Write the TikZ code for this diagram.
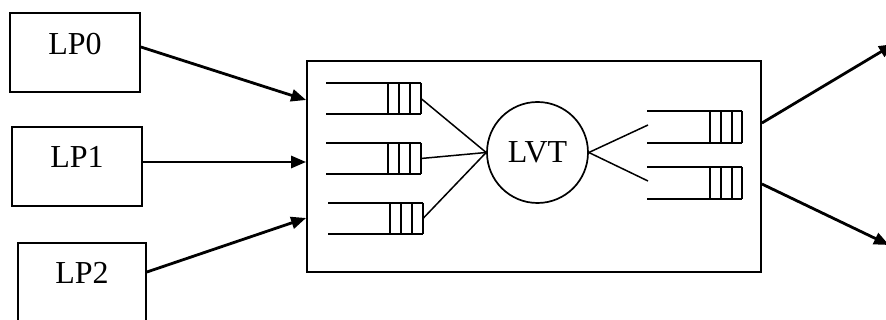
\documentclass[tikz,border=0pt]{standalone}
\usepackage{fontspec}
\setmainfont{Liberation Serif}
\usetikzlibrary{arrows.meta}

\tikzset{
  lpbox/.style={draw, line width=1.8pt, minimum width=130pt, minimum height=79pt, inner sep=0pt},
  queue/.style={line width=1.7pt},
  link/.style={line width=1.5pt},
  flow/.style={->, line width=2.8pt},
}

\begin{document}
\begin{tikzpicture}[x=1pt, y=-1pt, >={Triangle[length=15pt, width=12pt]},
  font=\fontsize{32}{38}\selectfont]
  \useasboundingbox (0,0) rectangle (886,320);

  % Logical processes
  \node[lpbox] (lp0) at (75,52.5) {};
  \node[lpbox] (lp1) at (77,166.5) {};
  \node[lpbox, minimum width=128pt] (lp2) at (82,282.5) {};
  \node[anchor=base] (lp0txt) at ([yshift=-42pt]lp0.north) {LP0};
  \node[anchor=base] (lp1txt) at ([yshift=-41pt]lp1.north) {LP1};
  \node[anchor=base] (lp2txt) at ([yshift=-41pt]lp2.north) {LP2};

  % Main box and LVT
  \node[draw, line width=1.8pt, minimum width=454pt, minimum height=211pt] (proc) at (534,166.5) {};
  \node[circle, draw, line width=1.7pt, minimum size=101pt, inner sep=0pt] (lvt) at (537.5,152.5) {LVT};

  % Input queues
  \foreach \x/\y/\n in {326/83/1, 326/143/2, 328/203/3} {
    \draw[queue] (\x,\y) -- ++(95,0) (\x,\y+31) -- ++(95,0);
    \foreach \b in {62,73,84,95} \draw[queue] (\x+\b,\y) -- ++(0,31);
    \coordinate (qin\n) at (\x+95,\y+15.5);
  }

  % Output queues
  \foreach \y/\n in {111/1, 167/2} {
    \draw[queue] (647,\y) -- ++(95,0) (647,\y+32) -- ++(95,0);
    \foreach \b in {63,74,85,95} \draw[queue] (647+\b,\y) -- ++(0,32);
    \coordinate (qout\n) at (648,\y+14);
  }

  % Queues to LVT
  \foreach \n in {1,2,3} \draw[link] (qin\n) -- (lvt.west);
  \foreach \n in {1,2} \draw[link] (lvt.east) -- (qout\n);

  % Incoming messages
  \draw[flow] ([yshift=5.5pt]lp0.east) -- ([yshift=66.5pt]proc.west);
  \draw[flow] ([yshift=4.5pt]lp1.east) -- ([yshift=4.5pt]proc.west);
  \draw[flow] ([yshift=10.5pt]lp2.east) -- ([yshift=-51.5pt]proc.west);

  % Outgoing messages
  \coordinate (out0) at (894,44);
  \coordinate (out1) at (889,245);
  \draw[flow] ([yshift=43.5pt]proc.east) -- (out0);
  \draw[flow] ([yshift=-17.5pt]proc.east) -- (out1);
\end{tikzpicture}
\end{document}
